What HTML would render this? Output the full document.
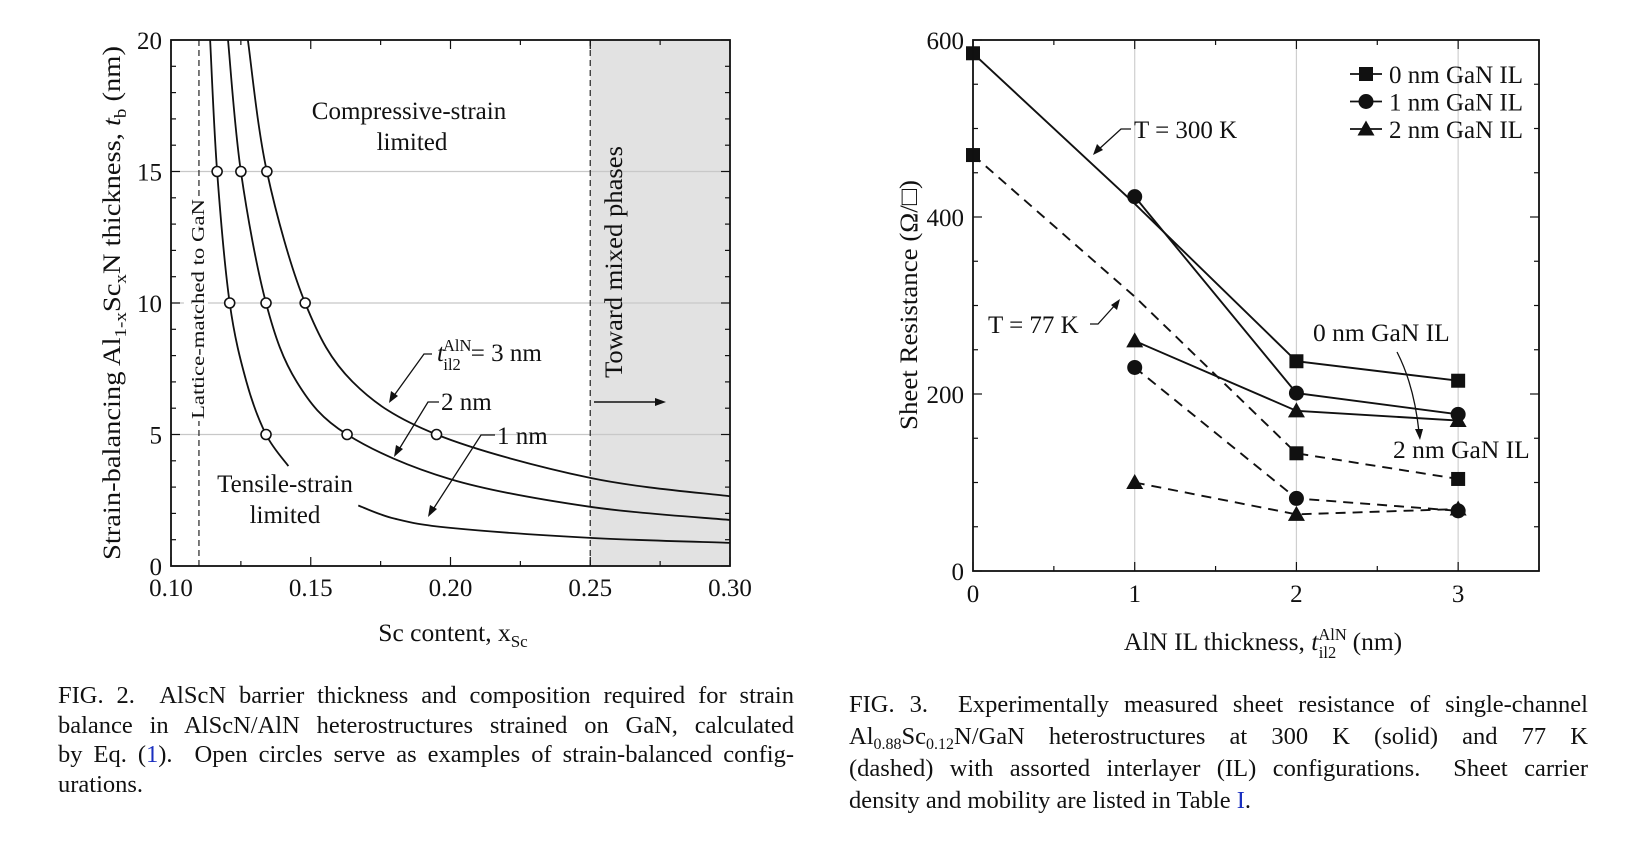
<!DOCTYPE html>
<html><head><meta charset="utf-8"><style>
html,body{margin:0;padding:0;background:#fff;width:1635px;height:844px;overflow:hidden}
svg{position:absolute;left:0;top:0}
text{font-family:"Liberation Serif",serif;fill:#111}
.cap{position:absolute;font-family:"Liberation Serif",serif;font-size:24.5px;color:#111}
.cap div{white-space:nowrap;height:29.5px;line-height:29.5px}
.cap div.j{text-align:justify;text-align-last:justify;white-space:normal}
.cap sub{font-size:16px;line-height:0;vertical-align:-5px}
.cap a{color:#1a2fbf;text-decoration:none}
</style></head><body>
<svg id="chart" width="1635" height="844"></svg>
<div class="cap" style="left:58px;top:681px;width:736px">
<div class="j">FIG. 2.&nbsp; AlScN barrier thickness and composition required for strain</div>
<div class="j">balance in AlScN/AlN heterostructures strained on GaN, calculated</div>
<div class="j">by Eq. (<a>1</a>).&nbsp; Open circles serve as examples of strain-balanced config-</div>
<div>urations.</div>
</div>
<div class="cap" style="left:849px;top:690px;width:739px">
<div class="j" style="height:32px">FIG. 3.&nbsp; Experimentally measured sheet resistance of single-channel</div>
<div class="j" style="height:32px">Al<sub>0.88</sub>Sc<sub>0.12</sub>N/GaN heterostructures at 300 K (solid) and 77 K</div>
<div class="j" style="height:32px">(dashed) with assorted interlayer (IL) configurations.&nbsp; Sheet carrier</div>
<div>density and mobility are listed in Table <a>I</a>.</div>
</div>
<script>
// ---- Fig 2 data ----
const curve1nmUpper = [[0.114,20],[0.1165,15],[0.121,10],[0.127,7],[0.134,5],[0.142,3.8]];
const curve1nmLower = [[0.167,2.3],[0.18,1.8],[0.2,1.45],[0.25,1.07],[0.30,0.88]];
const curve2nm = [[0.1204,20],[0.125,15],[0.134,10],[0.145,7],[0.163,5],[0.2,3.3],[0.25,2.25],[0.30,1.75]];
const curve3nm = [[0.1275,20],[0.1343,15],[0.148,10],[0.165,7],[0.195,5],[0.25,3.35],[0.30,2.65]];
const openCircles = [[0.1165,15],[0.125,15],[0.1343,15],[0.121,10],[0.134,10],[0.148,10],[0.134,5],[0.163,5],[0.195,5]];
const xTicks2 = [0.10,0.15,0.20,0.25,0.30];
const xTickLabels2 = ["0.10","0.15","0.20","0.25","0.30"];
const yTicks2 = [0,5,10,15,20];
// ---- Fig 3 data ----
const ilX = [0,1,2,3];
const solid0 = [585,415,237,215];
const solid1 = [null,423,201,177];
const solid2 = [null,260,181,170];
const dash0 = [470,310,133,104];
const dash1 = [null,230,82,68];
const dash2 = [null,100,64,70];
const marker0 = [true,false,true,true];
const yTicks3 = [0,200,400,600];
const xTicks3 = [0,1,2,3];

const NS="http://www.w3.org/2000/svg";
const svg=document.getElementById('chart');
function el(tag,attrs,parent){const e=document.createElementNS(NS,tag);for(const k in attrs)e.setAttribute(k,attrs[k]);(parent||svg).appendChild(e);return e;}
function txt(x,y,s,size,anchor,parent){const t=el('text',{x:x,y:y,'font-size':size,'text-anchor':anchor||'start'},parent);t.textContent=s;return t;}

// ===== Fig 2 =====
const L={x0:171,x1:730,y0:566,y1:40};
const px2=x=>L.x0+(x-0.1)/0.2*(L.x1-L.x0);
const py2=t=>L.y0-t/20*(L.y0-L.y1);
const g2=el('g',{});


const shade=el('rect',{x:px2(0.25),y:L.y1,width:px2(0.3)-px2(0.25),height:L.y0-L.y1,fill:'#e2e2e2'},g2);


[5,10,15].forEach(t=>{const l=el('line',{x1:L.x0,x2:L.x1,y1:py2(t),y2:py2(t),stroke:'#c8c8c8','stroke-width':1.2},g2);

});
[0.11,0.25].forEach(x=>{const l=el('line',{x1:px2(x),x2:px2(x),y1:L.y1,y2:L.y0,stroke:'#333','stroke-width':1.3,'stroke-dasharray':'6,4'},g2);

});
const lmBg=el('rect',{x:px2(0.11)-15,y:197,width:24,height:224,fill:'#fff'},g2);


function smoothPath(pts,px,py){const P=pts.map(p=>[px(p[0]),py(p[1])]);let d=`M${P[0][0]},${P[0][1]}`;
for(let i=0;i<P.length-1;i++){const p0=P[i-1]||P[i],p1=P[i],p2=P[i+1],p3=P[i+2]||p2;
d+=` C${p1[0]+(p2[0]-p0[0])/6},${p1[1]+(p2[1]-p0[1])/6} ${p2[0]-(p3[0]-p1[0])/6},${p2[1]-(p3[1]-p1[1])/6} ${p2[0]},${p2[1]}`;}return d;}
[[curve1nmUpper,'curve-1nm-upper'],[curve1nmLower,'curve-1nm-lower'],[curve2nm,'curve-2nm'],[curve3nm,'curve-3nm']].forEach(([c,n])=>{
const p=el('path',{d:smoothPath(c,px2,py2),fill:'none',stroke:'#111','stroke-width':1.8},g2);

});
openCircles.forEach(c=>{const ci=el('circle',{cx:px2(c[0]),cy:py2(c[1]),r:5,fill:'#fff',stroke:'#111','stroke-width':1.6},g2);

});
for(let i=0;i<=8;i++){const x=0.1+i*0.025;const len=i%2===0?9:5;
el('line',{x1:px2(x),x2:px2(x),y1:L.y0,y2:L.y0-len,stroke:'#111','stroke-width':1.2},g2);
el('line',{x1:px2(x),x2:px2(x),y1:L.y1,y2:L.y1+len,stroke:'#111','stroke-width':1.2},g2);}
for(let i=0;i<=20;i++){const len=i%5===0?9:5;
el('line',{x1:L.x0,x2:L.x0+len,y1:py2(i),y2:py2(i),stroke:'#111','stroke-width':1.2},g2);
el('line',{x1:L.x1,x2:L.x1-len,y1:py2(i),y2:py2(i),stroke:'#111','stroke-width':1.2},g2);}
const f2=el('rect',{x:L.x0,y:L.y1,width:L.x1-L.x0,height:L.y0-L.y1,fill:'none',stroke:'#111','stroke-width':1.8},g2);


xTicks2.forEach((x,i)=>{const t=txt(px2(x),596,xTickLabels2[i],25,'middle',g2);

});
yTicks2.forEach(v=>{const t=txt(L.x0-9,py2(v)+9,String(v),25,'end',g2);

});
svg.insertAdjacentHTML('beforeend',`
<text x="453" y="641" font-size="25.5" text-anchor="middle">Sc content, x<tspan font-size="17" dy="6">Sc</tspan></text>
<text transform="translate(120,303) rotate(-90)" font-size="25.5" text-anchor="middle" textLength="514" lengthAdjust="spacingAndGlyphs">Strain-balancing Al<tspan font-size="17" dy="6">1-x</tspan><tspan dy="-6">Sc</tspan><tspan font-size="17" dy="6">x</tspan><tspan dy="-6">N thickness, </tspan><tspan font-style="italic">t</tspan><tspan font-size="17" dy="6">b</tspan><tspan dy="-6"> (nm)</tspan></text>
<text x="409" y="119" font-size="25" text-anchor="middle">Compressive-strain</text>
<text x="412" y="150" font-size="25" text-anchor="middle">limited</text>
<text x="285" y="492" font-size="25" text-anchor="middle">Tensile-strain</text>
<text x="285" y="523" font-size="25" text-anchor="middle">limited</text>
<text transform="translate(204,309) rotate(-90)" font-size="18" text-anchor="middle" textLength="220" lengthAdjust="spacingAndGlyphs">Lattice-matched to GaN</text>
<text transform="translate(622,262) rotate(-90)" font-size="25" text-anchor="middle" textLength="232" lengthAdjust="spacingAndGlyphs">Toward mixed phases</text>
<g><line x1="594" y1="402" x2="658" y2="402" stroke="#111" stroke-width="1.5"/><path d="M666,402 L655,398 L655,406Z" fill="#111"/></g>
<text x="437" y="361" font-size="25"><tspan font-style="italic">t</tspan><tspan font-size="16.5" dx="-1" dy="-10">AlN</tspan><tspan font-size="16.5" dx="-28" dy="19">il2</tspan><tspan dy="-9" dx="10">= 3 nm</tspan></text>
<g stroke="#111" stroke-width="1.3" fill="none"><polyline points="432,354 424,354 393,397"/></g><path d="M389,403 L391,391 L398,396Z" fill="#111"/>
<text x="441" y="410" font-size="25">2 nm</text>
<g stroke="#111" stroke-width="1.3" fill="none"><polyline points="439,402 428,402 398,451"/></g><path d="M394,457 L396,445 L403,449Z" fill="#111"/>
<text x="497" y="444" font-size="25">1 nm</text>
<g stroke="#111" stroke-width="1.3" fill="none"><polyline points="495,435 481,435 432,511"/></g><path d="M428,517 L430,505 L437,509Z" fill="#111"/>
`);

// ===== Fig 3 =====
const R={x0:973,x1:1539,y0:571,y1:40};
const px3=x=>R.x0+x/3.5*(R.x1-R.x0);
const py3=v=>R.y0-v/600*(R.y0-R.y1);
const g3=el('g',{});


[1,2,3].forEach(x=>{const l=el('line',{x1:px3(x),x2:px3(x),y1:R.y1,y2:R.y0,stroke:'#cfcfcf','stroke-width':1.2},g3);

});
function series(vals,dashed,marker,name,showMarkers){
const pts=[];vals.forEach((v,i)=>{if(v!==null)pts.push([px3(ilX[i]),py3(v),i]);});
const pl=el('polyline',{points:pts.map(p=>p[0]+','+p[1]).join(' '),fill:'none',stroke:'#111','stroke-width':1.9,'stroke-dasharray':dashed?'10,7':'none'},g3);


pts.forEach(p=>{if(showMarkers&&!showMarkers[p[2]])return;const m=drawMarker(marker,p[0],p[1],g3);

});}
function drawMarker(type,x,y,parent){
if(type==='square')return el('rect',{x:x-7,y:y-7,width:14,height:14,fill:'#111'},parent);
if(type==='circle')return el('circle',{cx:x,cy:y,r:7.5,fill:'#111'},parent);
return el('path',{d:`M${x},${y-8.5} L${x+8.5},${y+6.5} L${x-8.5},${y+6.5}Z`,fill:'#111'},parent);}
series(solid0,false,'square','solid-0nm',marker0);
series(solid1,false,'circle','solid-1nm');
series(solid2,false,'triangle','solid-2nm');
series(dash0,true,'square','dashed-0nm',marker0);
series(dash1,true,'circle','dashed-1nm');
series(dash2,true,'triangle','dashed-2nm');
for(let i=0;i<=7;i++){const x=i*0.5;const len=i%2===0?9:5;
el('line',{x1:px3(x),x2:px3(x),y1:R.y0,y2:R.y0-len,stroke:'#111','stroke-width':1.2},g3);
el('line',{x1:px3(x),x2:px3(x),y1:R.y1,y2:R.y1+len,stroke:'#111','stroke-width':1.2},g3);}
for(let i=0;i<=12;i++){const v=i*50;const len=i%4===0?9:5;
el('line',{x1:R.x0,x2:R.x0+len,y1:py3(v),y2:py3(v),stroke:'#111','stroke-width':1.2},g3);
el('line',{x1:R.x1,x2:R.x1-len,y1:py3(v),y2:py3(v),stroke:'#111','stroke-width':1.2},g3);}
const f3=el('rect',{x:R.x0,y:R.y1,width:R.x1-R.x0,height:R.y0-R.y1,fill:'none',stroke:'#111','stroke-width':1.8},g3);


xTicks3.forEach(x=>{const t=txt(px3(x),602,String(x),25,'middle',g3);

});
yTicks3.forEach(v=>{const t=txt(R.x0-9,py3(v)+9,String(v),25,'end',g3);

});
const legNames=['0 nm GaN IL','1 nm GaN IL','2 nm GaN IL'];
const legMarkers=['square','circle','triangle'];
legNames.forEach((n,i)=>{const y=74+i*27.5;
const g=el('g',{},g3);


el('line',{x1:1350,x2:1382,y1:y,y2:y,stroke:'#111','stroke-width':1.8},g);
drawMarker(legMarkers[i],1366,y,g);
txt(1389,y+9,n,25,'start',g);});
svg.insertAdjacentHTML('beforeend',`
<text x="1263" y="650" font-size="25.5" text-anchor="middle">AlN IL thickness, <tspan font-style="italic">t</tspan><tspan font-size="16.5" dy="-10">AlN</tspan><tspan font-size="16.5" dx="-28" dy="18">il2</tspan><tspan dx="10" dy="-8"> (nm)</tspan></text>
<text transform="translate(917,305) rotate(-90)" font-size="25.5" text-anchor="middle" textLength="250" lengthAdjust="spacingAndGlyphs">Sheet Resistance (Ω/□)</text>
<text x="1134" y="138" font-size="25">T = 300 K</text>
<polyline points="1131,129 1121,129 1098,150" fill="none" stroke="#111" stroke-width="1.3"/><path d="M1093,155 L1097,144 L1103,150Z" fill="#111"/>
<text x="988" y="333" font-size="25">T = 77 K</text>
<polyline points="1090,324 1098,324 1116,304" fill="none" stroke="#111" stroke-width="1.3"/><path d="M1120,299 L1117,310 L1111,305Z" fill="#111"/>
<text x="1313" y="341" font-size="25.5">0 nm GaN IL</text>
<text x="1393" y="458" font-size="25.5">2 nm GaN IL</text>
<path d="M1397,352 Q1414,385 1419,432" fill="none" stroke="#111" stroke-width="1.3"/><path d="M1420,440 L1415,429 L1423,429Z" fill="#111"/>
`);
</script>
</body></html>
